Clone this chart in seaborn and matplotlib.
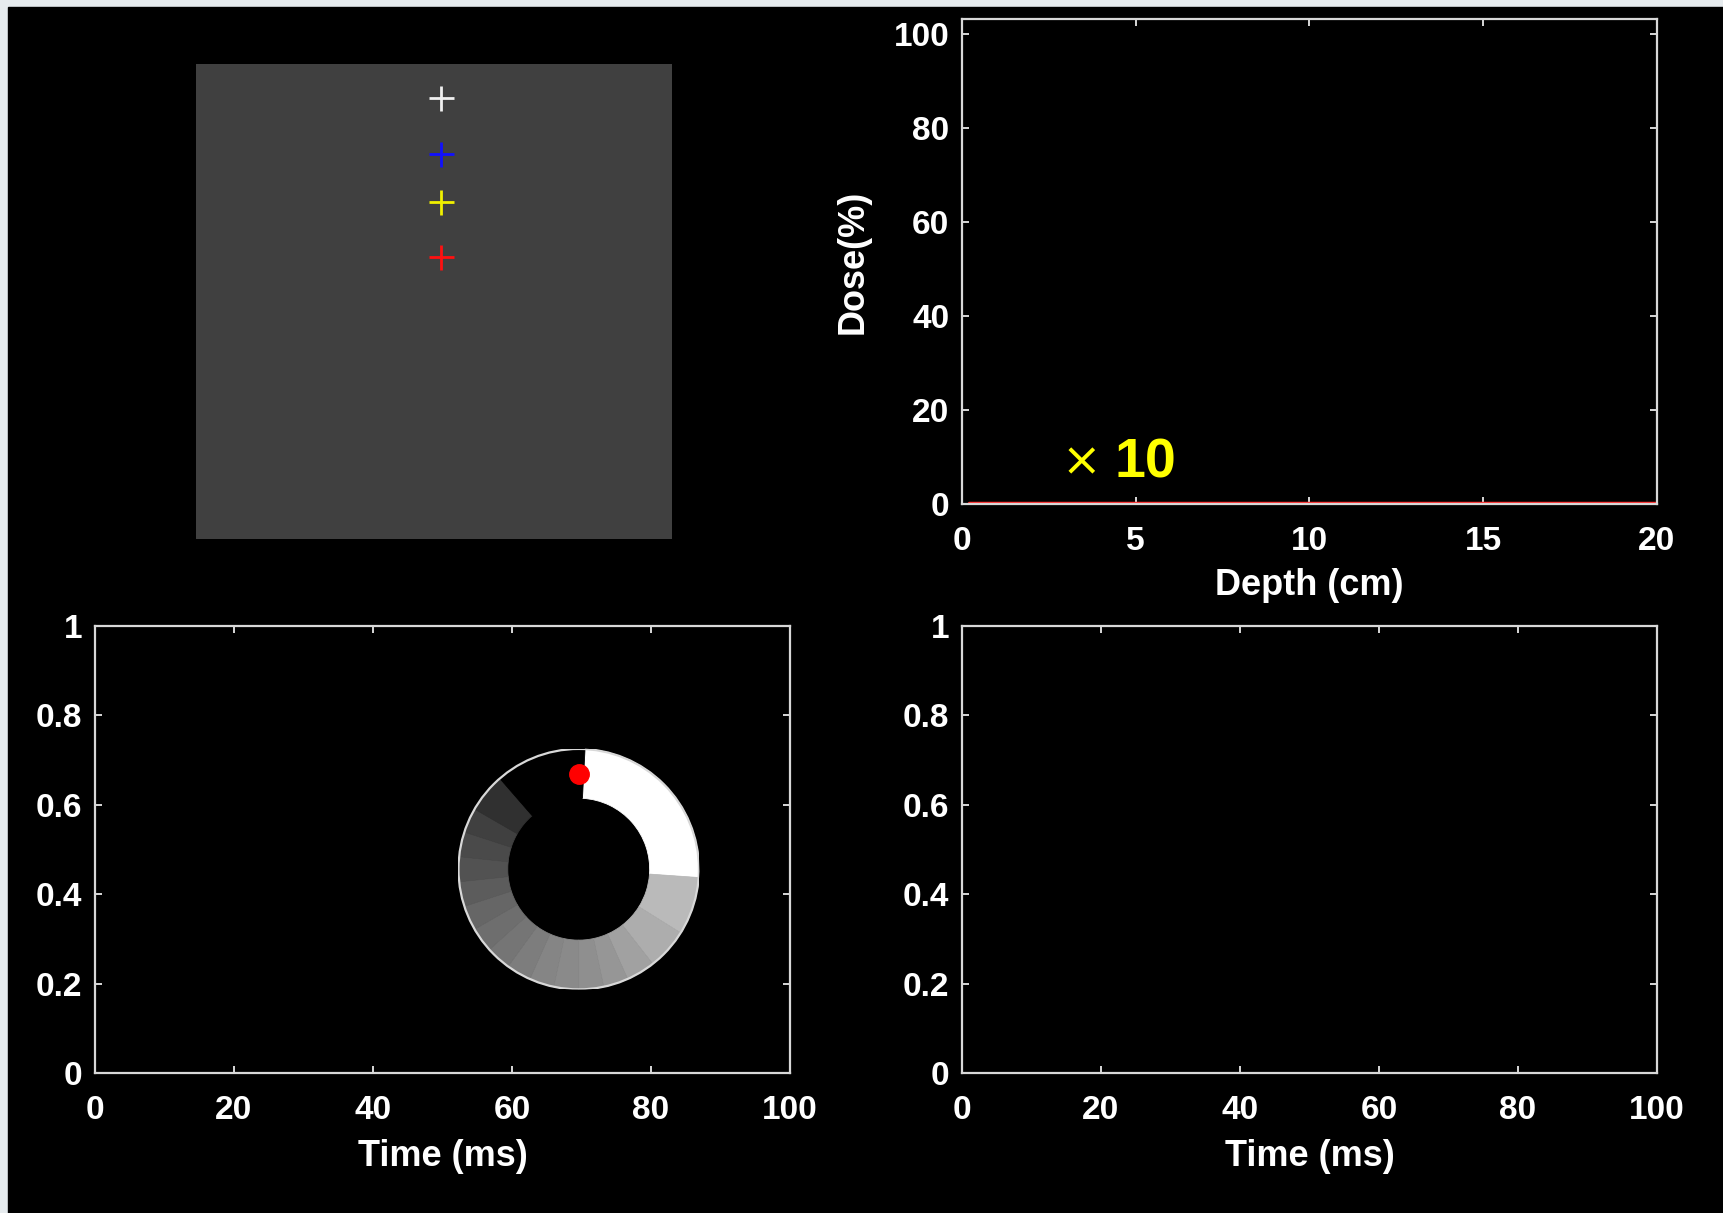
import numpy as np
import matplotlib
matplotlib.use("Agg")
import matplotlib.pyplot as plt
from matplotlib.patches import Rectangle, Circle
import seaborn as sns

# depth-dose curve (top right)
depth = [0.2, 20.0]
dose = [0.3, 0.3]
depth_ticks = [0, 5, 10, 15, 20]
dose_ticks = [0, 20, 40, 60, 80, 100]

# phantom image with the detector crosses (top left)
phantom_size = 100
phantom_level = 0.25
cross_x = [51.5, 51.5, 51.5, 51.5]
cross_y = [7.2, 18.9, 29.0, 40.6]
cross_colors = ["#f0f0f0", "#1010ff", "#f0f000", "#ff1010"]

# time axes (bottom)
time_ticks = [0, 20, 40, 60, 80, 100]
frac_ticks = [0, 0.2, 0.4, 0.6, 0.8, 1.0]
frac_labels = ["0", "0.2", "0.4", "0.6", "0.8", "1"]

# progress ring: segment edges (deg, clockwise from 12 o'clock) and grey level
ring_center = (69.6, 0.456)
ring_radius = (17.3, 0.27)
ring_edges = [3, 94, 122, 142, 156, 168, 180, 192, 204, 216, 228, 240,
              252, 264, 276, 288, 300, 319, 363]
ring_grey = [1.0, 0.73, 0.68, 0.63, 0.59, 0.56, 0.54, 0.52, 0.49, 0.46,
             0.43, 0.40, 0.36, 0.32, 0.29, 0.25, 0.19, 0.0]
dot_x = [69.6]
dot_y = [0.668]

sns.set_theme(style="ticks")
plt.rcParams["font.family"] = ["Liberation Sans", "DejaVu Sans"]
plt.rcParams["font.weight"] = "bold"

fg = "#d8d8d8"
W, H = 1724, 1213
fig = plt.figure(figsize=(W / 100, H / 100), dpi=100)
fig.patch.set_facecolor("#e6ebee")
fig.add_artist(Rectangle((8 / W, 0), 1, 1 - 7 / H, transform=fig.transFigure,
                         color="black", zorder=-5))


def box(px):
    x0, y0, x1, y1 = px
    return [x0 / W, 1 - y1 / H, (x1 - x0) / W, (y1 - y0) / H]


def style_axes(ax):
    ax.set_facecolor("black")
    for s in ax.spines.values():
        s.set_color(fg)
        s.set_linewidth(1.6)
        s.set_visible(True)
    ax.tick_params(direction="in", top=True, right=True, length=5, width=1.4,
                   colors=fg, labelcolor="white", labelsize=24)
    ax.tick_params(axis="x", pad=16)
    ax.tick_params(axis="y", pad=9)
    ax.grid(False)


# top left: phantom
ax_img = fig.add_axes(box((196, 64, 672, 539)))
ax_img.imshow(np.full((phantom_size, phantom_size), phantom_level), cmap="gray",
              vmin=0, vmax=1, aspect="auto", extent=(0, phantom_size, phantom_size, 0))
for x, y, c in zip(cross_x, cross_y, cross_colors):
    ax_img.plot(x, y, marker="+", color=c, markersize=18, mew=2, ls="none")
ax_img.set_xlim(0, phantom_size)
ax_img.set_ylim(phantom_size, 0)
ax_img.axis("off")

# top right: depth dose
ax_dd = fig.add_axes(box((962, 19, 1657, 504)))
style_axes(ax_dd)
sns.lineplot(x=depth, y=dose, ax=ax_dd, color="#ff2a2a", linewidth=2.5)
ax_dd.set_xlim(0, 20)
ax_dd.set_ylim(0, 103.2)
ax_dd.set_xticks(depth_ticks)
ax_dd.set_yticks(dose_ticks)
ax_dd.set_xlabel("Depth (cm)", color="white", fontsize=26, fontweight="bold", labelpad=8)
ax_dd.set_ylabel("Dose(%)", color="white", fontsize=26, fontweight="bold", labelpad=17)
ax_dd.text(3.42, 8.7, "\u00d7", color="#ffff00", fontsize=34, fontweight="normal",
           ha="center", va="center", family=["DejaVu Sans"])
ax_dd.text(4.4, 5.7, "10", color="#ffff00", fontsize=40, fontweight="bold",
           ha="left", va="baseline")

# bottom: time axes, ring on the left one
ax_t1 = fig.add_axes(box((95, 626, 790, 1073)))
ax_t2 = fig.add_axes(box((962, 626, 1657, 1073)))
for ax in (ax_t1, ax_t2):
    style_axes(ax)
    ax.set_xlim(0, 100)
    ax.set_ylim(0, 1)
    ax.set_xticks(time_ticks)
    ax.set_yticks(frac_ticks)
    ax.set_yticklabels(frac_labels)
    ax.set_xlabel("Time (ms)", color="white", fontsize=26, fontweight="bold", labelpad=9)

cx, cy = ring_center
rx, ry = ring_radius
ax_ring = ax_t1.inset_axes([cx - rx, cy - ry, 2 * rx, 2 * ry], transform=ax_t1.transData)
sizes = np.diff(ring_edges)
colors = [(g, g, g) for g in ring_grey]
wedges, _ = ax_ring.pie(sizes, colors=colors, startangle=90 - ring_edges[0],
                        counterclock=False, radius=1, wedgeprops=dict(width=0.41))
for w, c in zip(wedges, colors):
    w.set_edgecolor(c)
    w.set_linewidth(0.6)
ax_ring.add_patch(Circle((0, 0), 1, fill=False, ec=fg, lw=1.6))
ax_ring.set_xlim(-1, 1)
ax_ring.set_ylim(-1, 1)
ax_ring.set_aspect("equal")
ax_ring.patch.set_visible(False)
ax_ring.axis("off")
ax_t1.plot(dot_x, dot_y, "o", color="#ff0000", markersize=14, zorder=10)

plt.savefig("out.png", dpi=100, facecolor=fig.get_facecolor())
